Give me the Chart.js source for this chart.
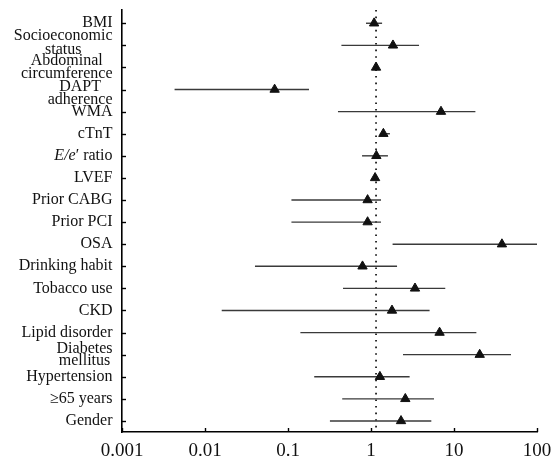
<!DOCTYPE html>
<html><head><meta charset="utf-8">
<script src="https://cdn.jsdelivr.net/npm/chart.js@4"></script>
<style>html,body{margin:0;padding:0;background:#fff}#wrap{width:560px;height:461px}</style>
</head><body><div id="wrap"><canvas id="c"></canvas></div>
<script>
const categories = [["BMI"],["Socioeconomic","status"],["Abdominal","circumference"],["DAPT","adherence"],["WMA"],["cTnT"],["E/e′ ratio"],["LVEF"],["Prior CABG"],["Prior PCI"],["OSA"],["Drinking habit"],["Tobacco use"],["CKD"],["Lipid disorder"],["Diabetes","mellitus"],["Hypertension"],["≥65 years"],["Gender"]];
const estimates = [1.09,1.84,1.15,0.069,6.97,1.41,1.16,1.12,0.91,0.91,37.8,0.79,3.39,1.79,6.7,20.4,1.28,2.59,2.30];
const lower = [0.87,0.44,1.12,0.0043,0.40,1.28,0.78,1.08,0.11,0.11,1.82,0.040,0.46,0.0159,0.141,2.43,0.207,0.45,0.32];
const upper = [1.36,3.79,1.18,0.179,18.1,1.69,1.60,1.16,1.32,1.32,100,2.06,7.85,5.08,18.6,48.6,2.92,5.74,5.33];
const xTicks = [0.001,0.01,0.1,1,10,100];
const xTickLabels = ["0.001","0.01","0.1","1","10","100"];
const refValue = 1.15;

const SERIF = "'Liberation Serif','DejaVu Serif',serif";
const Y_MIN = -0.6, Y_MAX = 18.5;
// vertical offsets (px) of the two lines of wrapped labels, relative to the tick
const twoLineOffsets = { 1: [-9.5, 4], 2: [-7, 6.5], 3: [-2.5, 10], 15: [-5.5, 6.5] };

const datasets = [];
categories.forEach((c, i) => {
  datasets.push({
    type: 'scatter', showLine: true,
    data: [{x: lower[i], y: i}, {x: upper[i], y: i}],
    borderColor: '#3a3a3a', borderWidth: 1.4, pointRadius: 0, order: 2
  });
});
datasets.push({
  type: 'scatter', showLine: true,
  data: [{x: refValue, y: Y_MIN}, {x: refValue, y: Y_MAX}],
  borderColor: '#000', borderWidth: 1.6, borderDash: [1.6, 5], pointRadius: 0, order: 3
});
datasets.push({
  type: 'scatter',
  data: estimates.map((v, i) => ({x: v, y: i})),
  pointStyle: 'triangle', pointRadius: 5.4, pointBackgroundColor: '#111', pointBorderColor: '#111',
  pointBorderWidth: 1, order: 1
});

const decor = {
  id: 'decor',
  afterDraw(chart) {
    const ctx = chart.ctx, xs = chart.scales.x, ys = chart.scales.y, a = chart.chartArea;
    ctx.save();
    ctx.strokeStyle = '#000'; ctx.lineWidth = 1.4;
    categories.forEach((c, i) => {
      const y = Math.round(ys.getPixelForValue(i)) + 0.5;
      ctx.beginPath(); ctx.moveTo(a.left, y); ctx.lineTo(a.left + 4, y); ctx.stroke();
    });
    xTicks.forEach(v => {
      const x = Math.round(xs.getPixelForValue(v)) + 0.5;
      ctx.beginPath(); ctx.moveTo(x, a.bottom); ctx.lineTo(x, a.bottom - 4); ctx.stroke();
    });
    ctx.fillStyle = '#111';
    ctx.textBaseline = 'middle';
    const rightX = a.left - 9.5;
    const reg = "16px " + SERIF, ital = "italic 16px " + SERIF;
    categories.forEach((lines, i) => {
      const y = ys.getPixelForValue(i);
      if (lines[0] === "E/e′ ratio") {
        ctx.font = ital; const w1 = ctx.measureText("E/e").width;
        ctx.font = reg; const w2 = ctx.measureText("′ ratio").width;
        const x = rightX - w1 - w2;
        ctx.textAlign = 'left';
        ctx.font = ital; ctx.fillText("E/e", x, y);
        ctx.font = reg; ctx.fillText("′ ratio", x + w1, y);
        return;
      }
      ctx.font = reg;
      if (lines.length === 1) {
        ctx.textAlign = 'right';
        ctx.fillText(lines[0], rightX, y);
      } else {
        const off = twoLineOffsets[i] || [-7, 7];
        const mw = Math.max(...lines.map(l => ctx.measureText(l).width));
        const cx = rightX - mw / 2;
        ctx.textAlign = 'center';
        ctx.fillText(lines[0], cx, y + off[0]);
        ctx.fillText(lines[1], cx, y + off[1]);
      }
    });
    ctx.restore();
  }
};

new Chart(document.getElementById('c'), {
  type: 'scatter',
  data: { datasets },
  options: {
    responsive: true, maintainAspectRatio: false, animation: false,
    layout: { padding: { left: 0, top: 10, right: 23, bottom: 0 } },
    plugins: { legend: { display: false }, tooltip: { enabled: false } },
    scales: {
      x: {
        type: 'logarithmic', min: 0.001, max: 100,
        grid: { display: false, drawTicks: false },
        border: { display: true, color: '#000', width: 1.6 },
        afterBuildTicks: (axis) => { axis.ticks = xTicks.map(v => ({ value: v, major: true })); },
        afterFit: (axis) => { axis.height = 29; },
        ticks: {
          autoSkip: false, maxRotation: 0, padding: 8, color: '#111',
          font: { family: SERIF, size: 19 },
          callback: (v, i) => xTickLabels[i]
        }
      },
      y: {
        type: 'linear', min: Y_MIN, max: Y_MAX, reverse: true,
        grid: { display: false, drawTicks: false },
        border: { display: true, color: '#000', width: 1.6 },
        ticks: { display: false },
        afterFit: (axis) => { axis.width = 122; }
      }
    }
  },
  plugins: [decor]
});
</script>
</body></html>
